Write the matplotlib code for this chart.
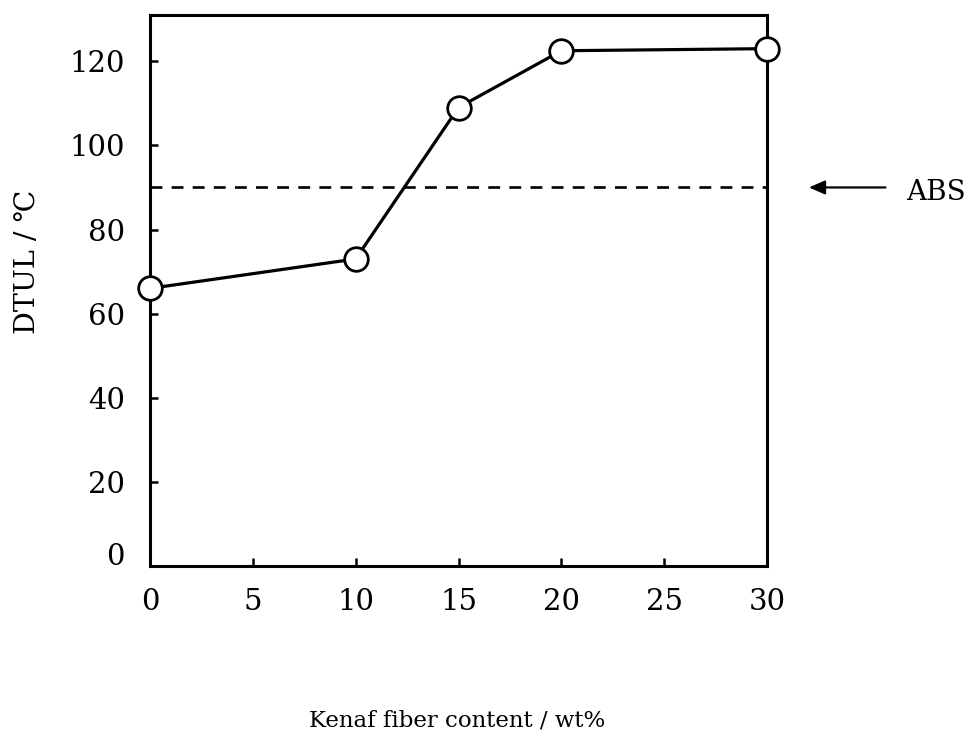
import matplotlib
matplotlib.use("Agg")
import matplotlib.pyplot as plt
import matplotlib.transforms as mtransforms

# data
fiber_content = [0, 10, 15, 20, 30]
dtul = [66, 73, 109, 122.5, 123]
abs_dtul = 90
x_ticks = [0, 5, 10, 15, 20, 25, 30]
y_ticks = [0, 20, 40, 60, 80, 100, 120]

plt.rcParams['font.family'] = ['DejaVu Serif', 'DejaVu Sans']

fig = plt.figure(figsize=(9.67, 7.34), dpi=100)
ax = fig.add_axes([150/967, 1-566/734, (767-150)/967, (566-15)/734])

ax.plot(fiber_content, dtul, color='black', lw=2.3, marker='o', markersize=17,
        markerfacecolor='white', markeredgecolor='black', markeredgewidth=2.0,
        clip_on=False, zorder=3)
ax.axhline(abs_dtul, color='black', lw=1.9, linestyle=(0, (4.5, 3.5)), zorder=2)

ax.set_xlim(0, 30)
ax.set_ylim(0, 131)
ax.set_xticks(x_ticks)
ax.set_yticks(y_ticks)
ax.tick_params(direction='in', length=6, width=1.8, labelsize=21, pad=18,
               color='black')
ax.tick_params(axis='x', pad=16)
for s in ax.spines.values():
    s.set_linewidth(2.2)

# lift the "0" y label a little, as in the reference
lbl0 = ax.get_yticklabels()[0]
lbl0.set_transform(lbl0.get_transform() +
                   mtransforms.ScaledTranslation(0, 12/100, fig.dpi_scale_trans))

ax.set_ylabel('DTUL / ℃', fontsize=20.5, va='center')
ax.yaxis.set_label_coords(-0.199, 0.552)
ax.set_xlabel('Kenaf fiber content / wt%', fontsize=16.5, va='center')
ax.xaxis.set_label_coords(0.497, -0.2795)

trans = mtransforms.blended_transform_factory(ax.transAxes, ax.transData)
ax.annotate('', xy=(1.068, abs_dtul), xytext=(1.192, abs_dtul),
            xycoords=trans, textcoords=trans,
            arrowprops=dict(arrowstyle='-|>,head_length=0.8,head_width=0.35',
                            mutation_scale=12,
                            color='black', lw=1.6, shrinkA=0, shrinkB=0))
ax.text(1.273, abs_dtul - 1.2, 'ABS', transform=trans, fontsize=20,
        ha='center', va='center')

fig.savefig('out.png', dpi=100)
